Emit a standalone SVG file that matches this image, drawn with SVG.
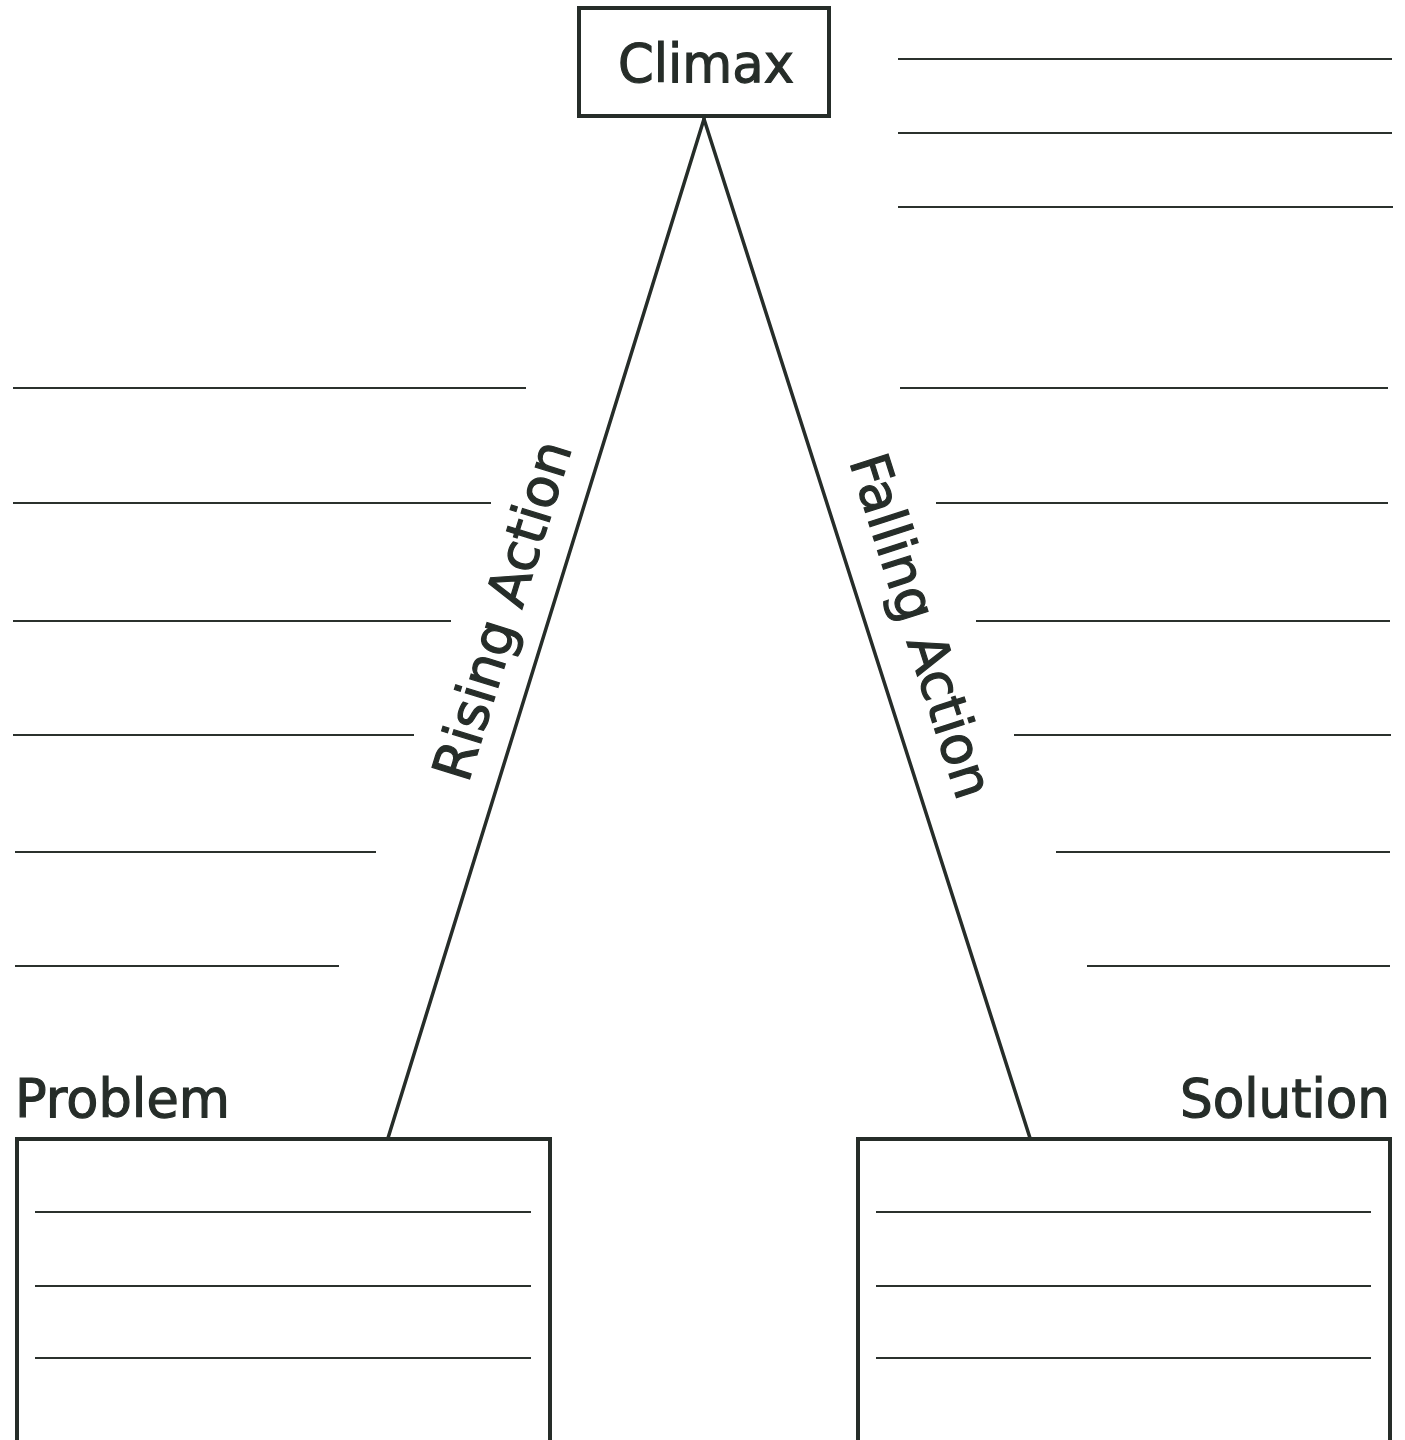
<svg xmlns="http://www.w3.org/2000/svg" width="1405" height="1440" viewBox="0 0 1405 1440">
<style>
.bg{fill:#ffffff}
.box{fill:#ffffff;stroke:#262d29;stroke-width:4}
.edge{stroke:#262d29;stroke-width:3.5;fill:none;stroke-linecap:round}
.rule{stroke:#2b312d;stroke-width:2.2;fill:none}
.lbl{font-family:"DejaVu Sans","Liberation Sans",sans-serif;font-size:54px;fill:#262d29;stroke:#262d29;stroke-width:1.2}
</style>
<rect class="bg" x="0" y="0" width="1405" height="1440"/>
<g id="connectors">
<line id="rising" class="edge" x1="704" y1="119" x2="388" y2="1138"/>
<line id="falling" class="edge" x1="704" y1="119" x2="1030" y2="1138"/>
</g>
<g id="rising-label">
<text class="lbl" transform="translate(468,784) rotate(-72.8)" textLength="352" lengthAdjust="spacingAndGlyphs">Rising Action</text>
</g>
<g id="falling-label">
<text class="lbl" transform="translate(849,461) rotate(72.3)" textLength="358" lengthAdjust="spacingAndGlyphs">Falling Action</text>
</g>
<g id="climax">
<rect class="box" x="579" y="8" width="250" height="108"/>
<text class="lbl" x="618" y="82" font-size="56" textLength="176" lengthAdjust="spacingAndGlyphs">Climax</text>
</g>
<g id="left-rules">
<line class="rule" x1="13" y1="388" x2="526" y2="388"/>
<line class="rule" x1="13" y1="503" x2="491" y2="503"/>
<line class="rule" x1="13" y1="621" x2="451" y2="621"/>
<line class="rule" x1="13" y1="735" x2="414" y2="735"/>
<line class="rule" x1="15" y1="852" x2="376" y2="852"/>
<line class="rule" x1="15" y1="966" x2="339" y2="966"/>
</g>
<g id="right-rules">
<line class="rule" x1="898" y1="59" x2="1392" y2="59"/>
<line class="rule" x1="898" y1="133" x2="1392" y2="133"/>
<line class="rule" x1="898" y1="207" x2="1393" y2="207"/>
<line class="rule" x1="900" y1="388" x2="1388" y2="388"/>
<line class="rule" x1="936" y1="503" x2="1388" y2="503"/>
<line class="rule" x1="976" y1="621" x2="1390" y2="621"/>
<line class="rule" x1="1014" y1="735" x2="1391" y2="735"/>
<line class="rule" x1="1056" y1="852" x2="1390" y2="852"/>
<line class="rule" x1="1087" y1="966" x2="1390" y2="966"/>
</g>
<g id="problem">
<text class="lbl" x="15" y="1117" font-size="56" textLength="215" lengthAdjust="spacingAndGlyphs">Problem</text>
<rect class="box" x="17" y="1139" width="533" height="310"/>
<line class="rule" x1="35" y1="1212" x2="531" y2="1212"/>
<line class="rule" x1="35" y1="1286" x2="531" y2="1286"/>
<line class="rule" x1="35" y1="1358" x2="531" y2="1358"/>
</g>
<g id="solution">
<text class="lbl" x="1180" y="1117" font-size="56" textLength="210" lengthAdjust="spacingAndGlyphs">Solution</text>
<rect class="box" x="858" y="1139" width="532" height="310"/>
<line class="rule" x1="876" y1="1212" x2="1371" y2="1212"/>
<line class="rule" x1="876" y1="1286" x2="1371" y2="1286"/>
<line class="rule" x1="876" y1="1358" x2="1371" y2="1358"/>
</g>
</svg>
